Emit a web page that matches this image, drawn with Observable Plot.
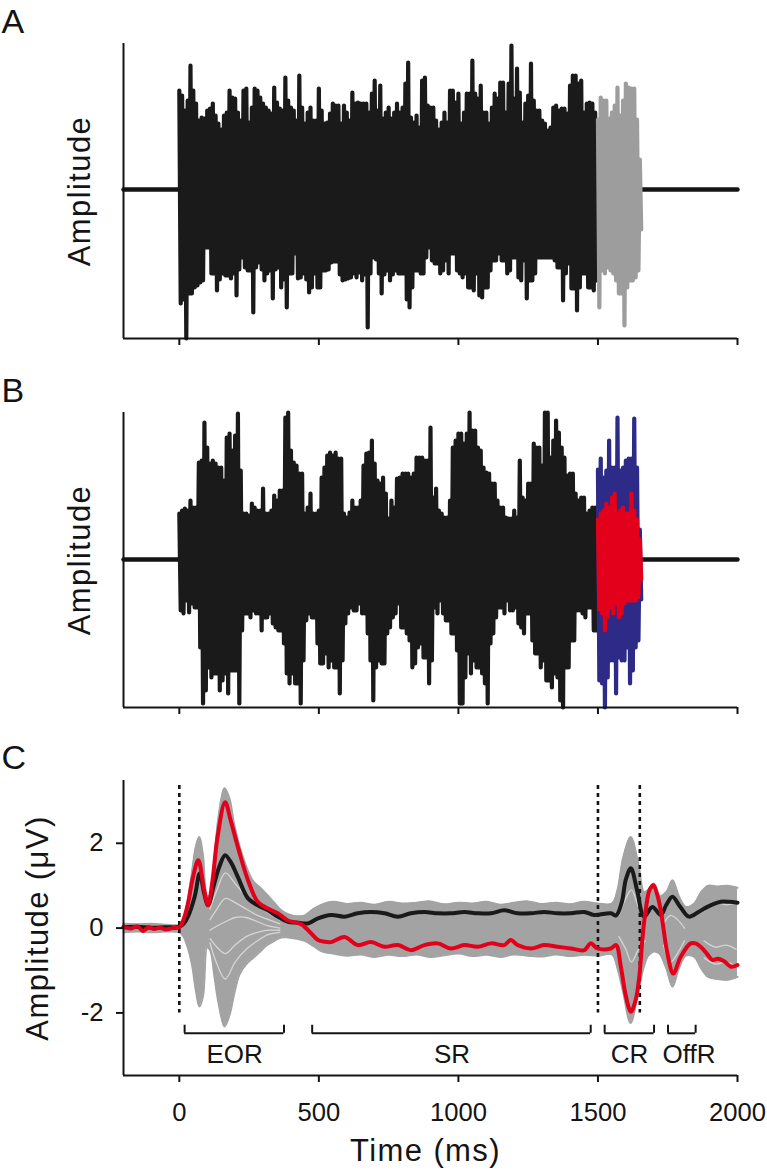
<!DOCTYPE html>
<html><head><meta charset="utf-8">
<script src="https://cdn.jsdelivr.net/npm/d3@7"></script>
<script src="https://cdn.jsdelivr.net/npm/@observablehq/plot@0.6"></script>
<style>
body{margin:0;background:#fff;}
#wrap{width:767px;height:1171px;position:relative;overflow:hidden;}
#wrap svg{display:block;}
</style></head><body><div id="wrap"></div>
<script>
// ---------- Panel A: noise stimulus (peak / trough per 10 ms bin) ----------
const topsA = [99,94,79,89,124,99,86,69,72,71, 79,81,86,74,66,60,74,77,99,92, 91,77,69,99,101,67,82,101,99,92, 86,82,79,76,102,87,81,79,112,89, 82,79,69,114,82,66,77,82,69,69, 101,79,66,67,76,86,84,84,66,84, 77,69,97,86,87,86,86,86,77,96, 109,79,104,71,77,82,71,77,86,77, 82,106,127,72,67,74,62,109,112,84, 82,82,69,60,67,77,67,99,99,87, 96,66,77,96,96,129,96,91,104,77, 77,66,82,96,91,107,107,77,106,144, 91,121,97,67,86,94,126,89,79,79, 69,66,59,62,82,84,79,81,81,76, 104,114,114,106,109,77,86,87,86,77];
const botsA = [-114,-110,-149,-104,-104,-98,-96,-93,-91,-58, -58,-84,-84,-101,-90,-84,-86,-86,-89,-84, -106,-80,-68,-78,-81,-81,-123,-78,-73,-80, -91,-84,-81,-109,-80,-78,-98,-90,-118,-84, -84,-64,-89,-88,-84,-90,-103,-98,-84,-98, -98,-81,-81,-80,-73,-72,-72,-85,-91,-90, -89,-88,-84,-88,-83,-91,-85,-138,-84,-68, -70,-84,-104,-85,-81,-91,-85,-81,-84,-84, -84,-110,-118,-98,-81,-81,-84,-84,-68,-58, -71,-74,-74,-84,-81,-71,-84,-64,-64,-81, -84,-88,-84,-98,-98,-101,-84,-106,-108,-98, -98,-81,-71,-71,-64,-71,-71,-84,-81,-68, -68,-88,-91,-71,-109,-91,-91,-84,-68,-68, -68,-68,-68,-68,-71,-78,-78,-111,-84,-74, -99,-99,-121,-98,-84,-84,-98,-98,-101,-91];
const greyTopA = [70,92,89,89,71,77,84,102,74,89,106,102,101,101,70,30];
const greyBotA = [-118,-81,-84,-78,-81,-84,-91,-104,-104,-136,-98,-91,-91,-88,-81,-40];

// ---------- Panel B: modulated noise ----------
const topsB = [46,49,51,49,59,52,52,97,99,137, 112,96,99,96,92,92,79,122,126,109, 124,146,89,46,46,44,56,52,49,49, 71,46,46,49,64,59,69,69,142,147, 109,97,94,86,86,46,52,66,46,46, 49,82,92,104,107,104,107,101,101,46, 42,47,59,52,52,59,94,106,107,119, 96,79,76,82,66,41,59,52,81,82, 86,86,86,82,86,102,102,102,99,99, 132,62,71,49,46,42,42,59,112,119, 126,126,116,126,147,129,129,112,109,92, 87,86,76,76,59,52,52,42,41,41, 49,42,99,62,59,76,76,116,112,112, 94,147,147,102,119,139,127,112,102,84, 86,86,66,59,62,62,46,49,52,52];
const botsB = [-51,-54,-41,-53,-44,-48,-48,-88,-144,-131, -108,-118,-114,-114,-131,-121,-114,-134,-111,-111, -111,-144,-71,-54,-54,-58,-51,-54,-54,-71, -58,-58,-54,-64,-68,-71,-71,-84,-114,-124, -114,-124,-124,-144,-101,-61,-54,-58,-58,-84, -104,-104,-94,-108,-101,-108,-108,-134,-101,-64, -54,-48,-51,-51,-44,-54,-54,-74,-101,-141, -108,-101,-104,-104,-74,-68,-58,-54,-44,-68, -68,-74,-81,-108,-104,-88,-84,-98,-98,-124, -101,-48,-54,-41,-54,-61,-61,-74,-74,-91, -144,-144,-118,-94,-114,-101,-108,-108,-114,-124, -144,-84,-74,-58,-48,-48,-54,-41,-51,-51, -48,-64,-68,-74,-54,-54,-81,-94,-94,-108, -101,-121,-121,-128,-114,-118,-141,-148,-108,-108, -81,-81,-51,-51,-54,-58,-48,-48,-71,-71];
const blueTopB = [90,101,82,89,119,92,92,142,89,92,99,101,101,141,92,30];
const blueBotB = [-121,-124,-148,-118,-101,-101,-134,-98,-101,-101,-88,-124,-111,-88,-81,-40];
const redTopB  = [40,46,49,56,52,62,66,46,49,52,46,46,66,49,40,20];
const redBotB  = [-50,-54,-71,-58,-48,-54,-44,-58,-54,-44,-41,-41,-41,-41,-38,-20];

// ---------- Panel C: responses (µV) ----------
const envT  = [-200,-150,-100,-50,0,15,30,45,60,72,85,100,112,125,140,162,180,195,215,240,265,290,315,340,365,390,420,450,480,510,550,600,650,700,750,800,850,900,950,1000,1050,1100,1150,1200,1250,1300,1350,1400,1450,1500,1550,1570,1590,1617,1645,1665,1680,1700,1720,1745,1767,1790,1815,1845,1870,1895,1930,1965,2000];
const envHi = [0.1,0.09,0.1,0.08,0.08,0.2,0.65,1.3,1.95,2.15,1.7,0.75,0.8,1.6,2.6,3.3,3.05,2.5,1.95,1.45,1.1,0.95,0.78,0.6,0.42,0.33,0.28,0.3,0.45,0.55,0.62,0.57,0.6,0.55,0.62,0.58,0.6,0.63,0.56,0.6,0.58,0.62,0.55,0.6,0.63,0.57,0.6,0.56,0.62,0.58,0.58,0.9,1.65,2.15,1.5,0.85,0.9,1.05,0.75,0.85,1.13,0.75,0.5,0.58,0.85,1.0,0.98,1.0,0.95];
const envLo = [-0.1,-0.08,-0.1,-0.08,-0.1,-0.2,-0.45,-0.85,-1.5,-1.85,-1.6,-0.45,-0.55,-1.1,-1.75,-2.32,-2.05,-1.6,-1.1,-0.85,-0.7,-0.55,-0.4,-0.3,-0.22,-0.22,-0.25,-0.3,-0.42,-0.55,-0.6,-0.65,-0.62,-0.68,-0.63,-0.66,-0.62,-0.68,-0.64,-0.6,-0.66,-0.63,-0.68,-0.62,-0.65,-0.67,-0.62,-0.66,-0.63,-0.65,-0.62,-0.95,-1.5,-2.24,-1.45,-0.9,-0.65,-0.55,-0.6,-0.95,-1.38,-0.95,-0.65,-0.68,-0.95,-1.15,-1.2,-1.22,-1.15];
// gaps between individual grey traces (visible light seams inside the bundle)
const seamT_EOR = [110,135,165,200,240,280,320,360];
const seamsEOR = [
  [0.45,0.9,1.3,1.05,0.75,0.55,0.35,0.2],
  [0.2,0.45,0.7,0.6,0.45,0.3,0.2,0.1],
  [-0.05,0.05,0.15,0.25,0.25,0.15,0.05,0.0],
  [-0.25,-0.45,-0.6,-0.4,-0.2,-0.1,-0.05,-0.05],
  [-0.35,-0.85,-1.2,-0.8,-0.5,-0.3,-0.15,-0.1]
];
const seamT_CR = [1575,1600,1620,1645,1670];
const seamsCR = [[0.3,0.7,0.9,0.5,0.2], [-0.2,-0.5,-0.8,-0.5,-0.3]];
const seamT_Off = [1735,1760,1785,1810];
const seamsOff = [[0.1,0.3,0.2,0.0], [-0.4,-0.8,-0.6,-0.3]];
const seamT_End = [1880,1920,1960,1995];
const seamsEnd = [[0.4,0.6,0.55,0.6], [-0.3,-0.45,-0.4,-0.5], [-0.7,-0.85,-0.8,-0.9]];

const blackT = [-200,-150,-100,-50,0,15,31,55,73,89,103,125,143,164,184,210,246,281,317,353,389,420,460,497,544,592,639,687,735,783,830,878,926,973,1021,1069,1117,1164,1212,1260,1307,1355,1403,1451,1486,1546,1565,1585,1600,1618,1640,1665,1695,1725,1745,1767,1795,1826,1860,1892,1940,1970,2000];
const blackV = [0.02,0.03,0.01,0.02,0.03,0.1,0.27,0.74,1.29,0.82,0.54,1.05,1.44,1.72,1.56,1.2,0.7,0.54,0.42,0.27,0.15,0.13,0.11,0.23,0.31,0.27,0.35,0.38,0.35,0.27,0.35,0.38,0.35,0.35,0.38,0.35,0.35,0.42,0.35,0.35,0.38,0.35,0.35,0.38,0.31,0.35,0.3,0.6,1.15,1.41,0.9,0.27,0.5,0.31,0.55,0.74,0.5,0.27,0.38,0.5,0.62,0.62,0.6];
const redT = [-200,-175,-150,-130,-110,-90,-70,-50,-25,0,15,31,49,68,89,103,119,137,164,184,210,246,281,317,353,389,420,440,472,497,519,544,592,639,687,735,783,830,878,926,973,1021,1069,1117,1164,1188,1212,1260,1307,1355,1403,1451,1474,1498,1546,1565,1582,1600,1618,1635,1648,1660,1671,1685,1699,1712,1725,1749,1770,1797,1832,1850,1868,1890,1910,1930,1952,1976,2000];
const redV = [0.03,-0.01,0.04,-0.07,0.02,-0.02,0.01,-0.03,0.0,0.02,0.2,0.58,1.2,1.6,0.9,0.54,1.13,2.15,2.97,2.54,1.91,1.13,0.62,0.46,0.35,0.18,0.13,0.08,-0.12,-0.28,-0.32,-0.33,-0.21,-0.4,-0.33,-0.44,-0.4,-0.52,-0.4,-0.36,-0.48,-0.4,-0.44,-0.36,-0.4,-0.28,-0.4,-0.48,-0.4,-0.44,-0.48,-0.52,-0.36,-0.48,-0.48,-0.4,-0.91,-1.6,-1.97,-1.7,-1.15,-0.2,0.42,0.9,1.01,0.8,0.42,-0.6,-1.07,-0.67,-0.36,-0.36,-0.44,-0.6,-0.75,-0.72,-0.78,-0.91,-0.87];

const stimMarkers = [0, 1500, 1650];
const windowNames = ["EOR", "SR", "CR", "OffR"];
const windowStart = [19, 476, 1524, 1751];
const windowEnd   = [375, 1474, 1701, 1850];
const windowLabelAt = [198, 977, 1613, 1826];
const xTicks = [0, 500, 1000, 1500, 2000];
const yTicksC = [-2, 0, 2];
const silence = [[-200, 0], [1655, 2000]];

// ---------- helpers ----------
const FONT = "'Liberation Sans', Arial, Helvetica, sans-serif";
const INK = "#141414";
function zig(t0, tops, bots) {
  const out = [];
  tops.forEach((v, i) => { out.push({t: t0 + i * 10, v}); out.push({t: t0 + i * 10 + 5, v: bots[i]}); });
  return out;
}
const silenceData = silence.map(([a, b]) => [{t: a, v: 0}, {t: b, v: 0}]);

function noisePanel(letter, series, yDomain) {
  return Plot.plot({
    width: 767, height: 369,
    marginLeft: 123, marginRight: 30, marginTop: 43, marginBottom: 31,
    x: {domain: [-200, 2000]},
    y: {domain: yDomain, axis: null},
    style: {fontFamily: FONT, background: "transparent", color: INK, overflow: "visible"},
    marks: [
      ...silenceData.map(d => Plot.lineY(d, {x: "t", y: "v", stroke: INK, strokeWidth: 4.4})),
      ...series.map(s => Plot.lineY(s.data, {x: "t", y: "v", stroke: s.color, strokeWidth: 4.2, strokeLinejoin: "round"})),
      Plot.ruleX([-200], {stroke: INK, strokeWidth: 2}),
      Plot.ruleY([yDomain[0]], {stroke: INK, strokeWidth: 2}),
      Plot.axisX({ticks: xTicks, tickSize: 7, tickFormat: () => "", strokeWidth: 2, label: null}),
      Plot.text([letter], {text: d => d, frameAnchor: "top-left", dx: -122, dy: -11, lineAnchor: "bottom", textAnchor: "start", fontSize: 34, fill: INK}),
      Plot.text(["Amplitude"], {text: d => d, frameAnchor: "left", rotate: -90, dx: -34, lineAnchor: "bottom", textAnchor: "middle", fontSize: 31, fill: INK})
    ]
  });
}

const A = noisePanel("A", [
  {data: zig(0, topsA, botsA), color: "#1a1a1a"},
  {data: zig(1500, greyTopA, greyBotA), color: "#9d9d9d"}
], [-149, 146]);

const B = noisePanel("B", [
  {data: zig(0, topsB, botsB), color: "#1a1a1a"},
  {data: zig(1500, blueTopB, blueBotB), color: "#2d2a88"},
  {data: zig(1500, redTopB, redBotB), color: "#e2001a"}
], [-148, 147]);

const env = envT.map((t, i) => ({t, hi: envHi[i], lo: envLo[i]}));
const black = blackT.map((t, i) => ({t, v: blackV[i]}));
const red = redT.map((t, i) => ({t, v: redV[i]}));
const windows = windowNames.map((name, i) => ({name, start: windowStart[i], end: windowEnd[i], at: windowLabelAt[i]}));
const seamSets = [[seamT_EOR, seamsEOR], [seamT_CR, seamsCR], [seamT_Off, seamsOff], [seamT_End, seamsEnd]];
const seams = seamSets.flatMap(([ts, rows]) => rows.map(r => ts.map((t, i) => ({t, v: r[i]}))));
const GREY = "#a3a3a3";
const curve = "catmull-rom";

const C = Plot.plot({
  width: 767, height: 433,
  marginLeft: 123, marginRight: 30, marginTop: 42, marginBottom: 96,
  x: {domain: [-200, 2000]},
  y: {domain: [-3.475, 3.48]},
  style: {fontFamily: FONT, background: "transparent", color: INK, fontSize: "25.6px", overflow: "visible"},
  marks: [
    Plot.areaY(env, {x: "t", y1: "lo", y2: "hi", fill: GREY, curve}),
    Plot.lineY(env, {x: "t", y: "hi", stroke: GREY, strokeWidth: 2, curve}),
    Plot.lineY(env, {x: "t", y: "lo", stroke: GREY, strokeWidth: 2, curve}),
    ...seams.map(s => Plot.lineY(s, {x: "t", y: "v", stroke: "#ffffff", strokeOpacity: 0.55, strokeWidth: 1.3, curve})),
    Plot.ruleX(stimMarkers, {y1: 3.36, y2: -2.0, stroke: INK, strokeWidth: 2.6, strokeDasharray: "4,4"}),
    Plot.lineY(black, {x: "t", y: "v", stroke: "#1a1a1a", strokeWidth: 4, curve}),
    Plot.lineY(red, {x: "t", y: "v", stroke: "#e2001a", strokeWidth: 4, curve}),
    Plot.ruleY(windows, {x1: "start", x2: "end", y: -2.48, stroke: INK, strokeWidth: 2}),
    Plot.ruleX(windows, {x: "start", y1: -2.48, y2: -2.29, stroke: INK, strokeWidth: 2}),
    Plot.ruleX(windows, {x: "end", y1: -2.48, y2: -2.29, stroke: INK, strokeWidth: 2}),
    Plot.text(windows, {x: "at", y: -3.19, text: "name", lineAnchor: "bottom", textAnchor: "middle", fontSize: 26, fill: INK}),
    Plot.ruleX([-200], {stroke: INK, strokeWidth: 2}),
    Plot.ruleY([-3.475], {stroke: INK, strokeWidth: 2}),
    Plot.axisX({ticks: xTicks, tickSize: 7, tickPadding: 20, tickFormat: d => String(d), strokeWidth: 2, fontSize: 25.6, label: null}),
    Plot.axisY({ticks: yTicksC, tickSize: 7, tickPadding: 13, tickFormat: d => String(d), strokeWidth: 2, fontSize: 25.6, label: null}),
    Plot.text(["C"], {text: d => d, frameAnchor: "top-left", dx: -122, dy: -12, lineAnchor: "bottom", textAnchor: "start", fontSize: 34, fill: INK}),
    Plot.text(["Amplitude (μV)"], {text: d => d, frameAnchor: "left", rotate: -90, dx: -76, lineAnchor: "bottom", textAnchor: "middle", fontSize: 31, fill: INK}),
    Plot.text(["Time (ms)"], {text: d => d, frameAnchor: "bottom", dx: -5, dy: 85, lineAnchor: "bottom", textAnchor: "middle", fontSize: 31, fill: INK})
  ]
});

const wrap = document.getElementById("wrap");
for (const svg of [A, B, C]) {
  svg.querySelectorAll("text").forEach(el => {
    if (["Amplitude", "Amplitude (μV)", "Time (ms)"].includes(el.textContent)) el.style.letterSpacing = "1.4px";
  });
  wrap.appendChild(svg);
}
</script>
</body></html>
